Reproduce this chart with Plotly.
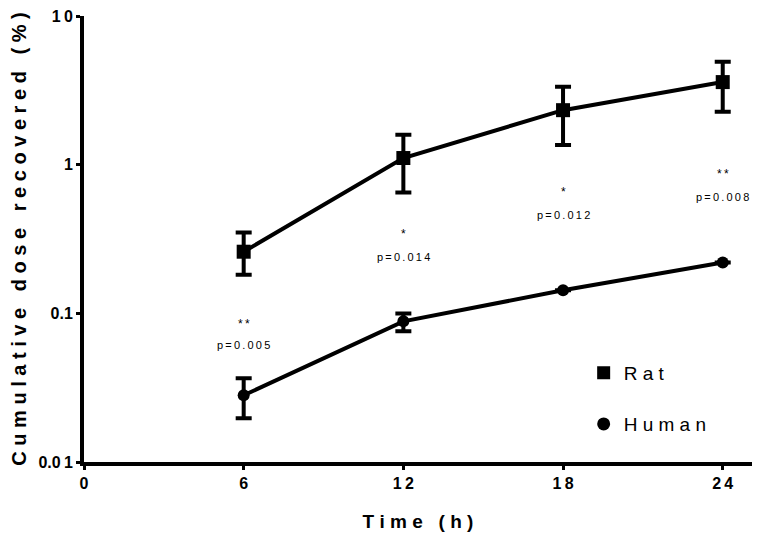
import math
import plotly.graph_objects as go

# time points (h)
time_h = [6, 12, 18, 24]

# cumulative dose recovered (%)
rat_mean = [0.26, 1.11, 2.33, 3.6]
rat_upper = [0.35, 1.59, 3.35, 4.93]
rat_lower = [0.182, 0.65, 1.36, 2.27]

human_mean = [0.0281, 0.0884, 0.143, 0.22]
human_upper = [0.0366, 0.100, 0.143, 0.22]
human_lower = [0.0197, 0.0757, 0.143, 0.22]

# significance labels above each time point
stars = ["**", "*", "*", "**"]
p_labels = ["p=0.005", "p=0.014", "p=0.012", "p=0.008"]
# vertical placement of the labels (data units)
star_y = [0.085, 0.34, 0.66, 0.87]
p_y = [0.061, 0.24, 0.46, 0.61]

FONT = "Arial, Liberation Sans, sans-serif"
THIN = "\u2009"
NBSP = "\u00a0"


def spaced(s, sep=THIN):
    """Spread letters out a bit like the Prism export."""
    return sep.join(NBSP if c == " " else c for c in s)


def err(mean, up, lo):
    return dict(
        type="data", symmetric=False,
        array=[u - m for u, m in zip(up, mean)],
        arrayminus=[m - l for m, l in zip(mean, lo)],
        color="black", thickness=4, width=8,
    )


fig = go.Figure()

fig.add_trace(go.Scatter(
    x=time_h, y=rat_mean, mode="lines+markers", showlegend=False,
    line=dict(color="black", width=4),
    marker=dict(symbol="square", size=14, color="black"),
    error_y=err(rat_mean, rat_upper, rat_lower),
))
fig.add_trace(go.Scatter(
    x=time_h, y=human_mean, mode="lines+markers", showlegend=False,
    line=dict(color="black", width=4),
    marker=dict(symbol="circle", size=12, color="black"),
    error_y=err(human_mean, human_upper, human_lower),
))

# legend entries (marker only)
fig.add_trace(go.Scatter(
    x=[None], y=[None], mode="markers", name=spaced("Rat", NBSP), legend="legend",
    marker=dict(symbol="square", size=13, color="black"),
))
fig.add_trace(go.Scatter(
    x=[None], y=[None], mode="markers", name=spaced("Human", NBSP), legend="legend2",
    marker=dict(symbol="circle", size=13, color="black"),
))

# annotations on a log axis take log10 positions
for x, s, p, sy, py in zip(time_h, stars, p_labels, star_y, p_y):
    fig.add_annotation(x=x, y=math.log10(sy), yref="y", text=spaced(s), showarrow=False,
                       font=dict(family=FONT, size=12, color="black"))
    fig.add_annotation(x=x, y=math.log10(py), yref="y", text=spaced(p), showarrow=False,
                       font=dict(family=FONT, size=11, color="black"))

legend_style = dict(
    xanchor="left", yanchor="middle", bgcolor="rgba(0,0,0,0)",
    font=dict(family=FONT, size=19, color="black"),
)

# page body has an 8px margin, so the figure is a little smaller than the window
fig.update_layout(
    width=753, height=534,
    margin=dict(l=76, r=9, t=8, b=80),
    plot_bgcolor="white", paper_bgcolor="white",
    font=dict(family=FONT, color="black"),
    legend=dict(x=0.748, y=0.2, **legend_style),
    legend2=dict(x=0.748, y=0.085, **legend_style),
    xaxis=dict(
        range=[0, 25.1], tickvals=[0, 6, 12, 18, 24],
        ticktext=["<b>0</b>", "<b>6</b>", "<b>1" + THIN + "2</b>",
                  "<b>1" + THIN + "8</b>", "<b>2" + THIN + "4</b>"],
        showline=True, linecolor="black", linewidth=4,
        ticks="outside", ticklen=4, tickwidth=3, tickcolor="black",
        showgrid=False, zeroline=False, automargin=False,
        tickfont=dict(family=FONT, size=16, color="black"),
        title=dict(text="<b>" + spaced("Time (h)", NBSP) + "</b>", standoff=24,
                   font=dict(family=FONT, size=19, color="black")),
    ),
    yaxis=dict(
        type="log", range=[-2, 1.001],
        tickvals=[0.01, 0.1, 1, 10],
        ticktext=["<b>0.0" + THIN + "1</b>", "<b>0.1</b>", "<b>1</b>",
                  "<b>1" + THIN + "0</b>"],
        ticklabeloverflow="allow",
        showline=True, linecolor="black", linewidth=4,
        ticks="outside", ticklen=4, tickwidth=3, tickcolor="black",
        showgrid=False, zeroline=False, automargin=False,
        tickfont=dict(family=FONT, size=16, color="black"),
        title=dict(text="<b>" + spaced("Cumulative dose recovered (%)", NBSP) + "</b>",
                   standoff=12, font=dict(family=FONT, size=20, color="black")),
    ),
)

fig.write_html("out.html")
